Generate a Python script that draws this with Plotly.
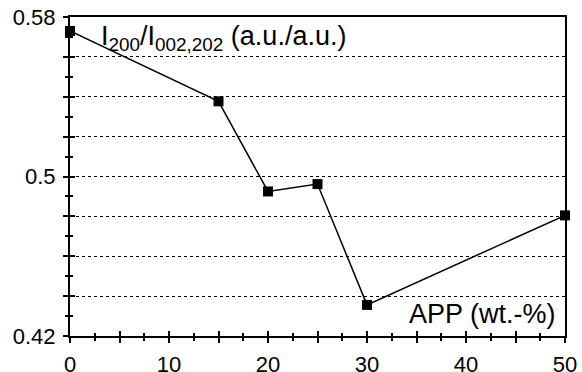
import plotly.graph_objects as go

app = [0, 15, 20, 25, 30, 50]
ratio = [0.573, 0.5377, 0.4925, 0.4962, 0.4356, 0.4805]

y_major = [0.42, 0.44, 0.46, 0.48, 0.50, 0.52, 0.54, 0.56, 0.58]
y_labels = ["0.42", "", "", "", "0.5", "", "", "", "0.58"]
y_minor = [0.43, 0.45, 0.47, 0.49, 0.51, 0.53, 0.55, 0.57]
x_major = [0, 5, 10, 15, 20, 25, 30, 35, 40, 45, 50]
x_labels = ["0", "", "10", "", "20", "", "30", "", "40", "", "50"]
x_minor = [2.5, 7.5, 12.5, 17.5, 22.5, 27.5, 32.5, 37.5, 42.5, 47.5]

FONT = "Liberation Sans, Arial, sans-serif"

fig = go.Figure()
fig.add_trace(go.Scatter(
    x=app, y=ratio, mode="lines+markers",
    line=dict(color="black", width=1.5),
    marker=dict(symbol="square", size=10, color="black"),
    cliponaxis=False, showlegend=False,
))
# invisible trace for the overlay axes (inner half of crossing ticks)
fig.add_trace(go.Scatter(x=[app[0]], y=[ratio[0]], xaxis="x2", yaxis="y2",
                         mode="markers", marker=dict(opacity=0), showlegend=False,
                         hoverinfo="skip"))

common_x = dict(range=[0, 50], zeroline=False, fixedrange=True, automargin=False)
common_y = dict(range=[0.42, 0.58], zeroline=False, fixedrange=True, automargin=False)

fig.update_layout(
    width=582, height=372,
    margin=dict(l=70, r=17, t=17, b=36),
    paper_bgcolor="white", plot_bgcolor="white",
    font=dict(family=FONT, size=22, color="black"),
    xaxis=dict(**common_x, tickmode="array", tickvals=x_major, ticktext=x_labels,
               ticks="outside", ticklen=5, tickwidth=1.5, tickcolor="black",
               showline=True, linecolor="black", linewidth=2, mirror=True,
               showgrid=False, ticklabelstandoff=3,
               tickfont=dict(size=22),
               minor=dict(tickmode="array", tickvals=x_minor, ticks="outside",
                          ticklen=3, tickwidth=1.5, tickcolor="black", showgrid=False)),
    yaxis=dict(**common_y, tickmode="array", tickvals=y_major, ticktext=y_labels,
               ticks="outside", ticklen=5, tickwidth=1.5, tickcolor="black",
               showline=True, linecolor="black", linewidth=2, mirror=True,
               showgrid=True, gridcolor="black", gridwidth=1, griddash="dot",
               ticklabelstandoff=3,
               minor=dict(tickmode="array", tickvals=y_minor, ticks="outside",
                          ticklen=3, tickwidth=1.5, tickcolor="black", showgrid=False)),
    xaxis2=dict(**common_x, overlaying="x", anchor="y2", side="bottom",
                tickmode="array", tickvals=x_major, ticks="inside", ticklen=5,
                tickwidth=1.5, tickcolor="black", showticklabels=False,
                showgrid=False, showline=False,
                minor=dict(tickmode="array", tickvals=x_minor, ticks="inside",
                           ticklen=3, tickwidth=1.5, tickcolor="black", showgrid=False)),
    yaxis2=dict(**common_y, overlaying="y", anchor="x2", side="left",
                tickmode="array", tickvals=y_major, ticks="inside", ticklen=5,
                tickwidth=1.5, tickcolor="black", showticklabels=False,
                showgrid=False, showline=False,
                minor=dict(tickmode="array", tickvals=y_minor, ticks="inside",
                           ticklen=3, tickwidth=1.5, tickcolor="black", showgrid=False)),
    annotations=[
        dict(text="I<sub>200</sub>/I<sub>002,202</sub> (a.u./a.u.)",
             x=2.9, y=0.5695, xref="x", yref="y", xanchor="left", yanchor="middle",
             showarrow=False, font=dict(size=27)),
        dict(text="APP (wt.-%)",
             x=49.3, y=0.4310, xref="x", yref="y", xanchor="right", yanchor="middle",
             showarrow=False, font=dict(size=27)),
    ],
)

fig.write_html("out.html")
